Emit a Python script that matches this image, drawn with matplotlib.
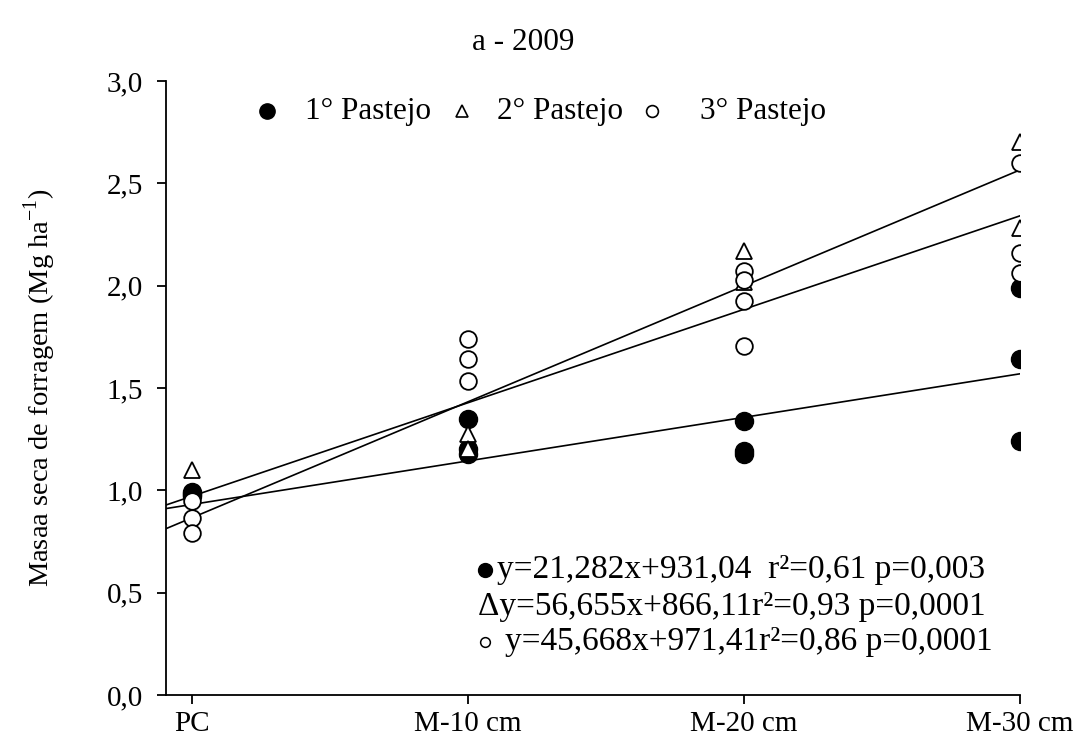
import numpy as np
import matplotlib
matplotlib.use('Agg')
import matplotlib.pyplot as plt

plt.rcParams['font.family'] = ['Liberation Serif', 'DejaVu Sans']
plt.rcParams['mathtext.fontset'] = 'custom'
plt.rcParams['mathtext.rm'] = 'Liberation Serif'

# treatment positions (cm) and labels
x_pos = [0, 10, 20, 30]
x_labels = ['PC', 'M-10 cm', 'M-20 cm', 'M-30 cm']
y_ticks = [0.0, 0.5, 1.0, 1.5, 2.0, 2.5, 3.0]
y_labels = ['0,0', '0,5', '1,0', '1,5', '2,0', '2,5', '3,0']

# observed points (Mg/ha)
p1_x = [0, 0, 0, 10, 10, 10, 20, 20, 20, 30, 30, 30]
p1_y = [0.99, 0.98, 0.97, 1.35, 1.20, 1.18, 1.34, 1.19, 1.18, 1.99, 1.64, 1.24]
p2_x = [0, 10, 10, 20, 20, 30, 30]
p2_y = [1.10, 1.275, 1.20, 2.17, 2.02, 2.70, 2.28]
p3_x = [0, 0, 0, 10, 10, 10, 20, 20, 20, 20, 30, 30, 30]
p3_y = [0.95, 0.865, 0.79, 1.74, 1.64, 1.535, 2.07, 2.03, 1.925, 1.705, 2.60, 2.16, 2.06]

# regression coefficients (kg/ha): slope, intercept
fit1 = (21.282, 931.04)
fit2 = (56.655, 866.11)
fit3 = (45.668, 971.41)

# equations are set tight, no spaces around the operators
eq_texts = ['y=21,282x+931,04  r\u00b2=0,61 p=0,003',
            '\u0394y=56,655x+866,11r\u00b2=0,93 p=0,0001',
            'y=45,668x+971,41r\u00b2=0,86 p=0,0001']

fig = plt.figure(figsize=(10.74, 7.37), dpi=100)
ax = fig.add_axes([0.1546, 0.057, 0.7951, 0.833])

xmin, xmax = -0.94, 30
xx = np.array([xmin, xmax])
for a, b in (fit1, fit2, fit3):
    ax.plot(xx, (a * xx + b) / 1000, color='black', lw=1.2, zorder=2)

ax.plot(p1_x, p1_y, 'o', ms=13, mfc='black', mec='black', zorder=3)
ax.plot(p2_x, p2_y, '^', ms=11, mfc='white', mec='black', mew=1.3, zorder=4)
ax.plot(p3_x, p3_y, 'o', ms=12, mfc='white', mec='black', mew=1.3, zorder=5)

ax.set_xlim(xmin, xmax)
ax.set_ylim(0, 3.0)
ax.set_xticks(x_pos)
ax.set_xticklabels(x_labels)
ax.set_yticks(y_ticks)
ax.set_yticklabels(y_labels)
ax.tick_params(direction='out', length=6.5, width=1.3, labelsize=21)
ax.tick_params(axis='y', pad=10)
ax.tick_params(axis='x', pad=5)
for s in ('top', 'right'):
    ax.spines[s].set_visible(False)
for s in ('left', 'bottom'):
    ax.spines[s].set_linewidth(1.3)

ax.set_ylabel('Masaa seca de forragem (Mg ha$^{\\mathregular{-1}}$)', fontsize=20.5)
ax.yaxis.set_label_coords(-0.127, 0.5)

fig.text(0.487, 0.943, 'a - 2009', fontsize=22.5, ha='center', va='center')

# legend row
leg_y = 0.951
ax.plot([0.118], [leg_y], 'o', ms=11, mfc='black', mec='black', transform=ax.transAxes, clip_on=False)
ax.plot([0.347], [leg_y], '^', ms=8, mfc='white', mec='black', mew=1.2, transform=ax.transAxes, clip_on=False)
ax.plot([0.569], [leg_y], 'o', ms=8.5, mfc='white', mec='black', mew=1.2, transform=ax.transAxes, clip_on=False)
for xt, lab in zip([0.163, 0.388, 0.625], ['1\u00b0 Pastejo', '2\u00b0 Pastejo', '3\u00b0 Pastejo']):
    ax.text(xt, leg_y, lab, transform=ax.transAxes, fontsize=22.5, va='center', ha='left')

# regression equations
eq_y = [0.2036, 0.1433, 0.0863]
eq_x = [0.3876, 0.365, 0.397]
ax.plot([0.373], [eq_y[0]], 'o', ms=10, mfc='black', mec='black', transform=ax.transAxes, clip_on=False)
ax.plot([0.373], [eq_y[2]], 'o', ms=7, mfc='white', mec='black', mew=1.1, transform=ax.transAxes, clip_on=False)
for xt, yt, s in zip(eq_x, eq_y, eq_texts):
    ax.text(xt, yt, s, transform=ax.transAxes, fontsize=24, va='center', ha='left')

fig.savefig('out.png', dpi=100)
